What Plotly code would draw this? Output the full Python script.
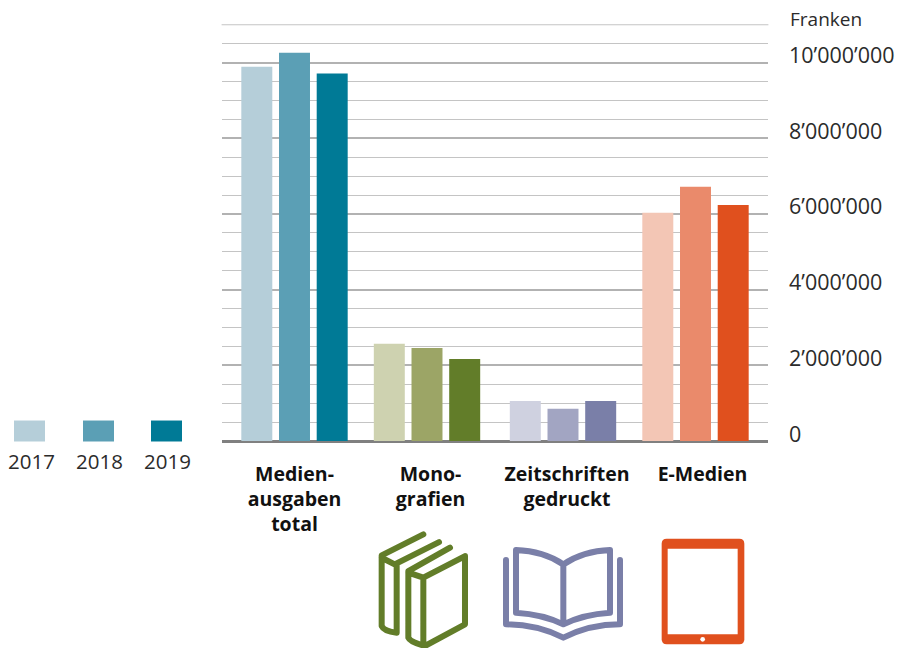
import re
import plotly.graph_objects as go

W, H = 907, 648
ML, MR, MT, MB = 222, 139, 24.1, 206.5

categories = ["Medien-<br>ausgaben<br>total", "Mono-<br>grafien", "Zeitschriften<br>gedruckt", "E-Medien"]
group_pos = [0, 132.5, 268.5, 401]
label_pos = [0, 136, 272.5, 408]
years = ["2017", "2018", "2019"]
v2017 = [9890000, 2570000, 1060000, 6030000]
v2018 = [10260000, 2460000, 850000, 6720000]
v2019 = [9710000, 2170000, 1060000, 6240000]
c2017 = ["#b5ced9", "#ced2b0", "#cfd1e0", "#f3c6b5"]
c2018 = ["#5b9fb5", "#9ca566", "#a2a5c2", "#ea8a6b"]
c2019 = ["#007a96", "#627d29", "#7a7fa8", "#e0501e"]
tick_vals = [0, 2000000, 4000000, 6000000, 8000000, 10000000]
tick_text = ["0", "2’000’000", "4’000’000", "6’000’000", "8’000’000", "10’000’000"]
top_line = 11000000

FONT = "Open Sans"
TXT = "#2b2b2b"


def px(x):
    return (x - ML) / (W - ML - MR)


def py(y):
    return (H - MB - y) / (H - MT - MB)


def icon(d):
    """Icon outline given in page pixels, converted to paper coordinates."""
    out, is_x = [], True
    for t in re.findall(r"[A-Za-z]|-?[\d.]+", d):
        if t.isalpha():
            out.append(t)
            is_x = True
        else:
            v = float(t)
            out.append(f"{px(360 + v / 3):.5f}," if is_x else f"{py(530 + v / 3):.5f}")
            is_x = not is_x
    return " ".join(out).replace(", ", ",")


def shape(d, line=None, fill=None, w=6):
    return dict(type="path", xref="paper", yref="paper", path=icon(d),
                line=dict(color=line or "rgba(0,0,0,0)", width=w if line else 0),
                fillcolor=fill or "rgba(0,0,0,0)", layer="above")


fig = go.Figure()
for name, vals, cols in zip(years, (v2017, v2018, v2019), (c2017, c2018, c2019)):
    fig.add_bar(x=group_pos, y=vals, name=name, marker=dict(color=cols, line_width=0), showlegend=False)

GREEN, PURPLE, ORANGE = c2019[1], c2019[2], c2019[3]
shapes = [
    dict(type="line", xref="paper", yref="y", x0=0, x1=1, y0=top_line, y1=top_line,
         line=dict(color="#c4c4c4", width=1), layer="below"),
    shape("M190,15 L65,78 L65,290 Q72,306 110,310 L110,108 L65,85 M237,38 L110,102", GREEN),
    shape("M270,55 L145,125 L145,325 Q150,338 195,350 L315,285 L315,80 L190,145 L145,130 M190,145 L190,348", GREEN),
    shape("M438,92 L438,285 Q530,285 610,325 Q690,285 780,285 L780,92", PURPLE),
    shape("M610,105 Q550,65 468,62 L468,250 Q550,255 610,285 Q670,255 750,250 L750,62 Q670,65 610,105 Z M610,105 L610,285", PURPLE),
    shape("M920,28 L1138,28 Q1153,28 1153,43 L1153,330 Q1153,345 1138,345 L920,345 Q905,345 905,330 L905,43 Q905,28 920,28 Z", None, ORANGE),
    shape("M923,58 L1133,58 L1133,315 L923,315 Z", None, "#ffffff"),
    shape("M1021,330 Q1021,323 1028,323 Q1035,323 1035,330 Q1035,337 1028,337 Q1021,337 1021,330 Z", None, "#ffffff"),
]

legend_x = [14, 83, 151]
legend_tx = [31, 99, 167]
legend_c = [c2017[0], c2018[0], c2019[0]]
annotations = [
    dict(text="Franken", xref="paper", yref="paper", x=px(788), y=py(19), xanchor="left", yanchor="middle",
         showarrow=False, font=dict(family=FONT, size=19, color=TXT)),
]
for lx, tx, lc, yr in zip(legend_x, legend_tx, legend_c, years):
    shapes.append(dict(type="rect", xref="paper", yref="paper", x0=px(lx), x1=px(lx + 31), y0=py(442), y1=py(421),
                       fillcolor=lc, line_width=0))
    annotations.append(dict(text=yr, xref="paper", yref="paper", x=px(tx), y=py(462), xanchor="center",
                            yanchor="middle", showarrow=False, font=dict(family=FONT, size=20.5, color=TXT)))

fig.update_layout(
    width=W, height=H, autosize=False, paper_bgcolor="white", plot_bgcolor="white",
    margin=dict(l=ML, r=MR, t=MT, b=MB, autoexpand=False),
    barmode="group", bargap=0.1465, bargroupgap=0.178,
    shapes=shapes, annotations=annotations, showlegend=False,
    xaxis=dict(range=[-72.5, 473.5], tickvals=label_pos, ticktext=[f"<b>{c}</b>" for c in categories],
               ticks="", showgrid=False, zeroline=False, showline=False,
               tickfont=dict(family=FONT, size=19.5, color="#111111"), ticklabelstandoff=19, tickangle=0),
    yaxis=dict(range=[0, 11020000], side="right", tickvals=tick_vals, ticktext=tick_text,
               ticks="", showline=False, showgrid=True, gridcolor="#b2b2b2", gridwidth=2,
               zeroline=True, zerolinecolor="#808080", zerolinewidth=3,
               tickfont=dict(family=FONT, size=21.5, color=TXT), ticklabelstandoff=20, ticklabelshift=-7,
               minor=dict(dtick=500000, showgrid=True, gridcolor="#c4c4c4", gridwidth=1, ticks="")),
)
fig.write_html(
    "out.html",
    config={"displayModeBar": False},
    post_script="document.body.style.margin='0';document.documentElement.style.overflow='hidden';"
                "document.querySelectorAll('.shapelayer path').forEach(function(p){"
                "p.style.strokeLinecap='round';p.style.strokeLinejoin='round';});",
)
